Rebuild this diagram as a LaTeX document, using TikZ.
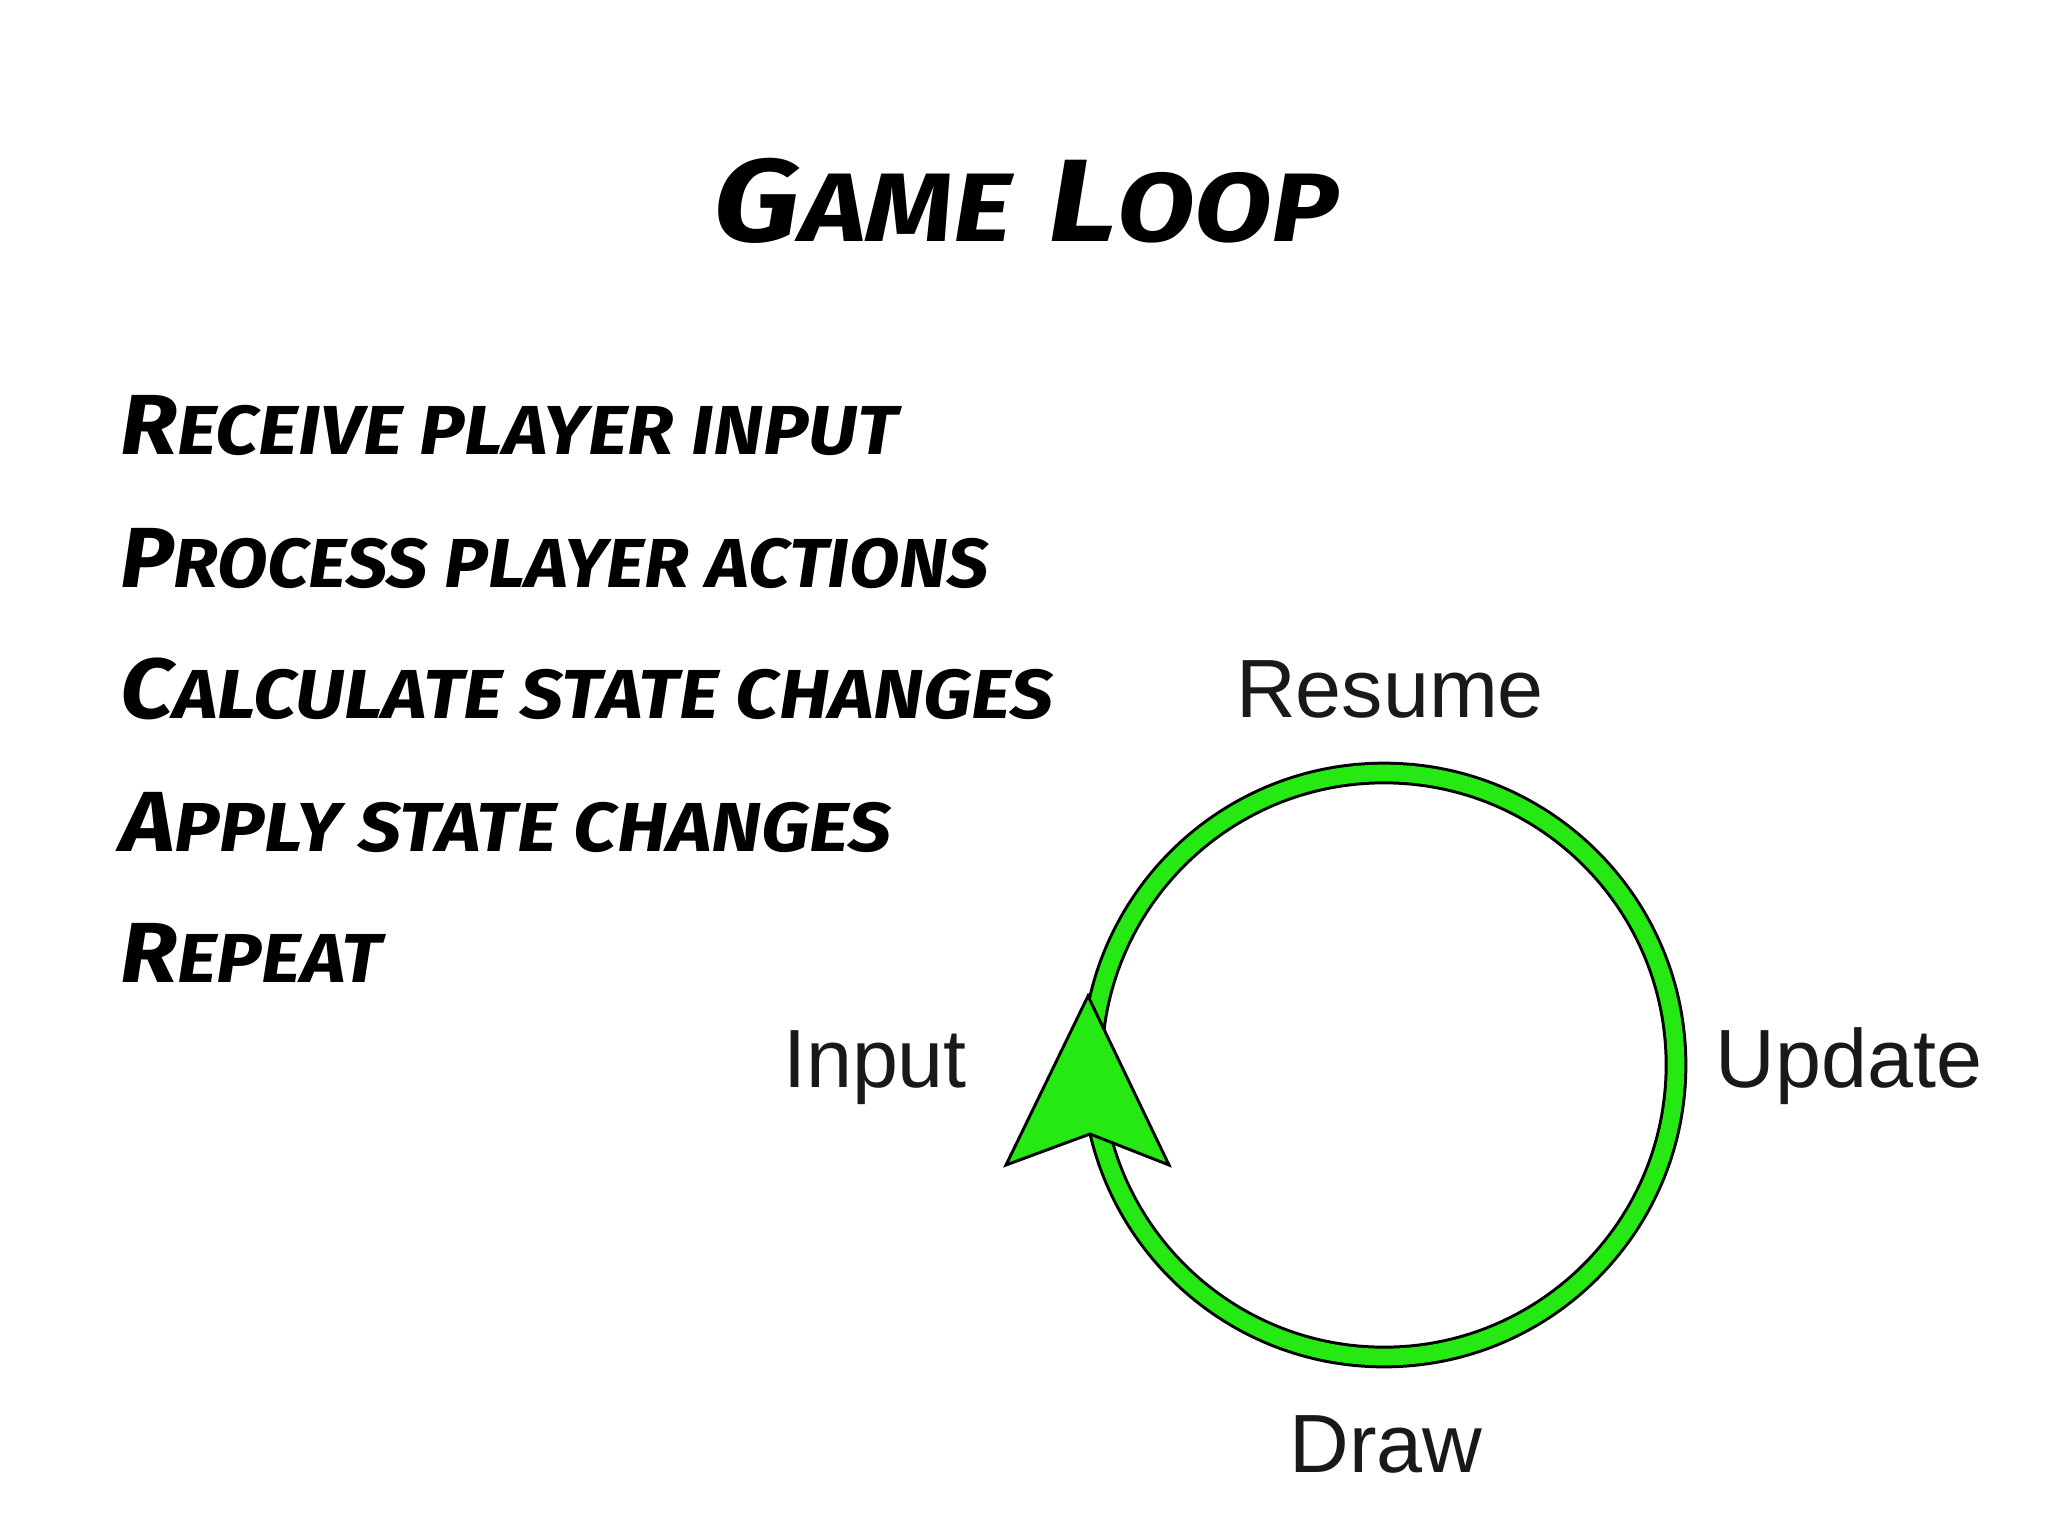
\documentclass[tikz,border=0pt]{standalone}
\usepackage{fontspec}
\setmainfont{Liberation Sans}
\newfontfamily\brush{Fira Sans}[FakeStretch=1.1]
\newfontfamily\brushN{Fira Sans}[FakeStretch=1.06]
\newfontfamily\brushT{Fira Sans}[FakeStretch=1.16]
\definecolor{ringgreen}{RGB}{38,232,18}
\definecolor{labelgray}{RGB}{25,25,25}
\newcommand\fakesc[4]{{\fontsize{#1}{#1}\selectfont #3}{\fontsize{#2}{#2}\selectfont\MakeUppercase{#4}}}
\begin{document}
\begin{tikzpicture}[x=0.75pt,y=-0.75pt,
  listline/.style={anchor=base west, inner sep=0pt, text=black, font=\brush\bfseries\itshape},
  titletext/.style={anchor=base, inner sep=0pt, text=black, font=\brushT\bfseries\itshape},
  lbl/.style={anchor=base, inner sep=0pt, text=labelgray, font=\fontsize{62}{62}\selectfont},
]
\fill[white] (0,0) rectangle (2048,1537);
\useasboundingbox (0,0) rectangle (2048,1537);

% title
\node[titletext] (title) at (1026,242) {\fakesc{88}{73}{G}{ame}\hspace{28pt}\fakesc{88}{73}{L}{oop}};

% list
\node[listline] (l1) at (120,454) {\fakesc{64}{52}{R}{eceive player input}};
\node[listline, font=\brushN\bfseries\itshape] (l2) at (120,587) {\fakesc{64}{52}{P}{rocess player actions}};
\node[listline] (l3) at (120,718) {\fakesc{64}{52}{C}{alculate state changes}};
\node[listline] (l4) at (120,851) {\fakesc{64}{52}{A}{pply state changes}};
\node[listline] (l5) at (120,982) {\fakesc{64}{52}{R}{epeat}};

% loop ring
\coordinate (c) at (1384,1065);
\draw[black, line width=17pt] (c) circle[radius=219pt];
\draw[ringgreen, line width=12.5pt] (c) circle[radius=219pt];

% arrowhead
\filldraw[fill=ringgreen, draw=black, line width=2.2pt, line join=miter]
  (1088,996) coordinate (tip) -- (1169,1165) -- (1090,1134) -- (1006,1165) -- cycle;

% labels
\node[lbl] (resume) at (1390,717) {Resume};
\node[lbl] (input) at (875,1087) {Input};
\node[lbl] (update) at (1849,1087) {Update};
\node[lbl] (draw) at (1386,1472) {Draw};
\end{tikzpicture}
\end{document}
